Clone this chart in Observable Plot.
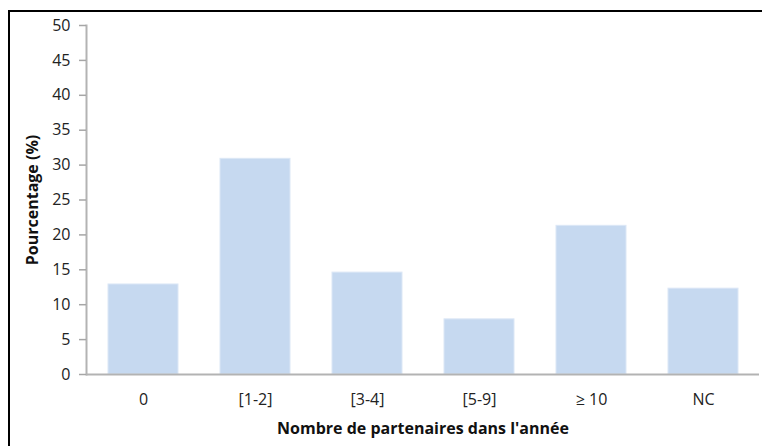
<!DOCTYPE html>
<html>
<head>
<meta charset="utf-8">
<script src="https://cdn.jsdelivr.net/npm/d3@7"></script>
<script src="https://cdn.jsdelivr.net/npm/@observablehq/plot@0.6"></script>
<style>
  html, body { margin: 0; padding: 0; background: #fff; }
  #wrap { position: relative; width: 762px; height: 446px; overflow: hidden; }
  #frame { position: absolute; left: 8px; top: 10px; width: 800px; height: 500px;
           border-top: 2px solid #000; border-left: 2px solid #000; box-sizing: border-box; pointer-events: none; }
  #chart { position: absolute; left: 0; top: 0; }
</style>
</head>
<body>
<div id="wrap">
  <div id="chart"></div>
  <div id="frame"></div>
</div>
<script>
const categories = ["0", "[1-2]", "[3-4]", "[5-9]", "≥ 10", "NC"];
const values = [12.9, 30.9, 14.6, 7.9, 21.3, 12.3];
const yTicks = [0, 5, 10, 15, 20, 25, 30, 35, 40, 45, 50];
const yLabel = "Pourcentage (%)";
const xLabel = "Nombre de partenaires dans l'année";

const data = categories.map((c, i) => ({category: c, value: values[i]}));

const font = "'Open Sans', 'Noto Sans', sans-serif";

const plot = Plot.plot({
  width: 762,
  height: 446,
  marginLeft: 86,
  marginRight: 3,
  marginTop: 25,
  marginBottom: 72,
  style: {fontFamily: font, fontSize: "16px", color: "#222", background: "transparent"},
  x: {domain: categories, paddingInner: 0.375, paddingOuter: 0.1875, label: null},
  y: {domain: [0, 50], label: null},
  marks: [
    Plot.barY(data, {x: "category", y: "value", fill: "#c6d9f0", stroke: "#dce7f6", strokeWidth: 1}),
    Plot.frame({anchor: "left", stroke: "#b3b3b3", strokeWidth: 2}),
    Plot.ruleY([0], {stroke: "#b3b3b3", strokeWidth: 2}),
    Plot.axisY({ticks: yTicks, tickSize: 7, tickPadding: 9, stroke: "#a6a6a6", strokeWidth: 1.5, fill: "#222", label: null, fontSize: 16}),
    Plot.axisX({tickSize: 0, tickPadding: 19, fill: "#222", label: null, fontSize: 16}),
    Plot.text([yLabel], {frameAnchor: "left", dx: -54, rotate: -90, fontWeight: "bold", fontSize: 16, fill: "#111", textAnchor: "middle"}),
    Plot.text([xLabel], {frameAnchor: "bottom", dy: 59, fontWeight: "bold", fontSize: 16, fill: "#111", textAnchor: "middle"})
  ]
});
document.getElementById("chart").appendChild(plot);
</script>
</body>
</html>
